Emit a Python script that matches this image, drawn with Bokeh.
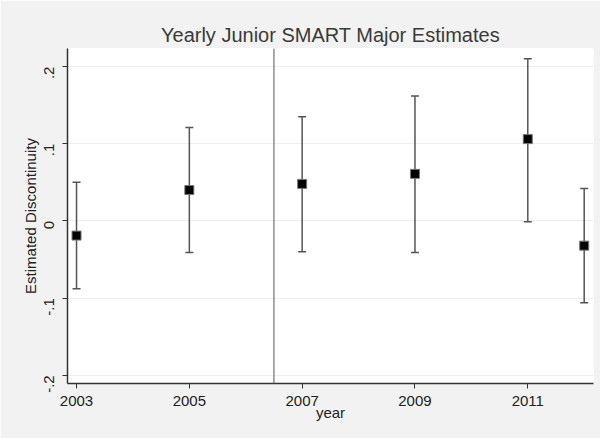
import math
from bokeh.plotting import figure
from bokeh.models import FixedTicker, Span, ColumnDataSource
from bokeh.embed import file_html
from bokeh.resources import INLINE

# Data
years = [2003, 2005, 2007, 2009, 2011, 2012]
estimate = [-0.019, 0.040, 0.048, 0.061, 0.106, -0.032]
upper = [0.050, 0.121, 0.135, 0.162, 0.210, 0.042]
lower = [-0.088, -0.041, -0.040, -0.041, -0.001, -0.106]
x_ticks = [2003, 2005, 2007, 2009, 2011]
y_ticks = [-0.2, -0.1, 0.0, 0.1, 0.2]
y_tick_labels = ["-.2", "-.1", "0", ".1", ".2"]
cutoff = 2006.5

src = ColumnDataSource(dict(x=years, y=estimate, hi=upper, lo=lower))

FONT = "Liberation Sans"

p = figure(width=600, height=438, output_backend="svg", toolbar_location=None,
           x_range=(2002.84, 2012.165), y_range=(-0.2106, 0.2234),
           min_border_left=67, min_border_right=7, min_border_top=48, min_border_bottom=55,
           background_fill_color="white", border_fill_color="#f2f2f2",
           outline_line_color=None)

p.title.text = "Yearly Junior SMART Major Estimates"
p.title.align = "center"
p.title.text_font = FONT
p.title.text_font_size = "20px"
p.title.text_font_style = "normal"
p.title.text_color = "#3a3a3a"
p.title.standoff = 6

# grid
p.xgrid.grid_line_color = None
p.ygrid.grid_line_color = "#eeeeee"
p.ygrid.grid_line_width = 1

# x axis
xa = p.xaxis[0]
xa.ticker = FixedTicker(ticks=x_ticks)
xa.minor_tick_line_color = None
xa.major_tick_in = 0
xa.major_tick_out = 5
xa.axis_line_color = "#333333"
xa.axis_line_width = 1.5
xa.major_tick_line_color = "#333333"
xa.major_label_text_font = FONT
xa.major_label_text_font_size = "15px"
xa.major_label_text_color = "#222222"
xa.major_label_standoff = 7
xa.axis_label = "year"
xa.axis_label_text_font = FONT
xa.axis_label_text_font_size = "15px"
xa.axis_label_text_font_style = "normal"
xa.axis_label_text_color = "#222222"
xa.axis_label_standoff = -5

# y axis
ya = p.yaxis[0]
ya.ticker = FixedTicker(ticks=y_ticks)
ya.major_label_overrides = {t: l for t, l in zip(y_ticks, y_tick_labels)}
ya.minor_tick_line_color = None
ya.major_tick_in = 0
ya.major_tick_out = 5
ya.axis_line_color = "#333333"
ya.axis_line_width = 1.5
ya.major_tick_line_color = "#333333"
ya.major_label_orientation = math.pi / 2
ya.major_label_text_font = FONT
ya.major_label_text_font_size = "15px"
ya.major_label_text_color = "#222222"
ya.major_label_standoff = 13
ya.axis_label = "Estimated Discontinuity"
ya.axis_label_text_font = FONT
ya.axis_label_text_font_size = "15px"
ya.axis_label_text_font_style = "normal"
ya.axis_label_text_color = "#222222"
ya.axis_label_standoff = -2

# cutoff line
p.add_layout(Span(location=cutoff, dimension="height", line_color="#555555", line_width=1))

# error bars
p.segment(x0="x", y0="lo", x1="x", y1="hi", source=src, line_color="#555555", line_width=1.5)
p.scatter(x="x", y="hi", source=src, marker="dash", size=8, line_color="#555555", line_width=1.5)
p.scatter(x="x", y="lo", source=src, marker="dash", size=8, line_color="#555555", line_width=1.5)

# points
p.scatter(x="x", y="y", source=src, marker="square", size=9, fill_color="black",
          line_color="#777777", line_width=1)

open("out.html", "w").write(file_html(p, INLINE))
